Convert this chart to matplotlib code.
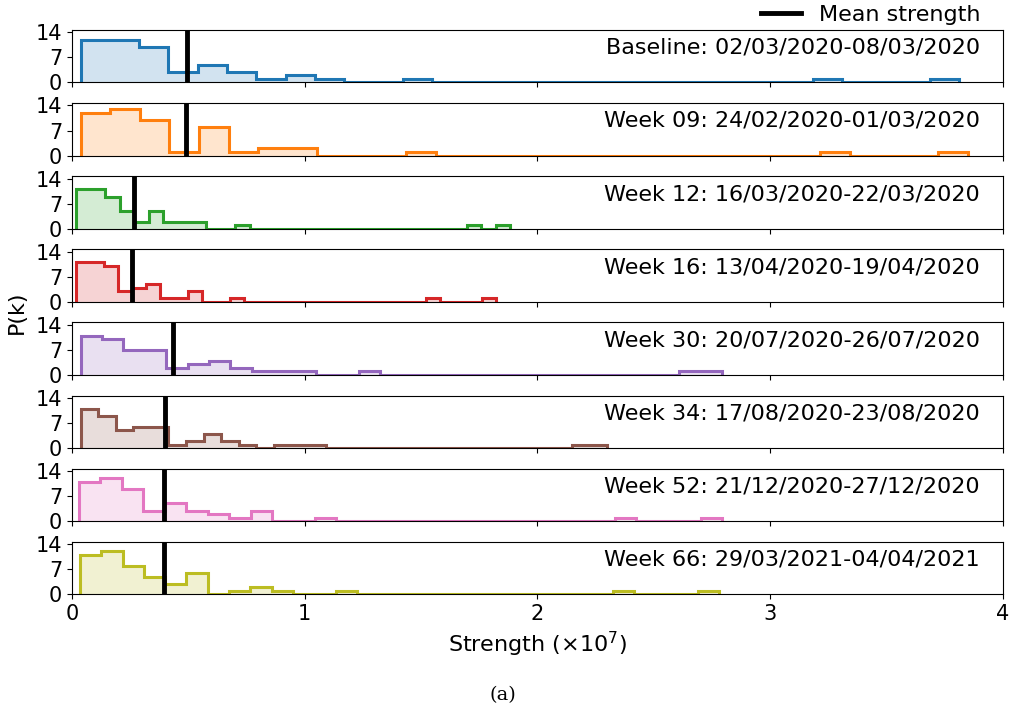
import numpy as np
import matplotlib
matplotlib.use("Agg")
import matplotlib.pyplot as plt

plt.rcParams['font.size'] = 16

# panel titles
labels = ["Baseline: 02/03/2020-08/03/2020",
          "Week 09: 24/02/2020-01/03/2020",
          "Week 12: 16/03/2020-22/03/2020",
          "Week 16: 13/04/2020-19/04/2020",
          "Week 30: 20/07/2020-26/07/2020",
          "Week 34: 17/08/2020-23/08/2020",
          "Week 52: 21/12/2020-27/12/2020",
          "Week 66: 29/03/2021-04/04/2021"]

# strength range of each week (x 10^7), 30 bins each
s_min = [0.037, 0.037, 0.018, 0.018, 0.037, 0.037, 0.030, 0.034]
s_max = [3.811, 3.85, 1.882, 1.822, 2.793, 2.30, 2.794, 2.781]

baseline = [12, 12, 10, 3, 5, 3, 1, 2, 1, 0, 0, 1] + [0] * 13 + [1, 0, 0, 0, 1]
week09 = [12, 13, 10, 1, 8, 1, 2, 2, 0, 0, 0, 1] + [0] * 13 + [1, 0, 0, 0, 1]
week12 = [11, 11, 9, 5, 2, 5, 2, 2, 2, 0, 0, 1] + [0] * 15 + [1, 0, 1]
week16 = [11, 11, 10, 3, 4, 5, 1, 1, 3, 0, 0, 1] + [0] * 13 + [1, 0, 0, 0, 1]
week30 = [11, 10, 7, 7, 2, 3, 4, 2, 1, 1, 1, 0, 0, 1] + [0] * 14 + [1, 1]
week34 = [11, 9, 5, 6, 6, 1, 2, 4, 2, 1, 0, 1, 1, 1] + [0] * 14 + [1, 1]
week52 = [11, 12, 9, 3, 5, 3, 2, 1, 3, 0, 0, 1] + [0] * 13 + [1, 0, 0, 0, 1]
week66 = [11, 12, 8, 5, 3, 6, 0, 1, 2, 1, 0, 0, 1] + [0] * 12 + [1, 0, 0, 0, 1]
counts = [baseline, week09, week12, week16, week30, week34, week52, week66]

mean_strength = [0.493, 0.49, 0.266, 0.258, 0.435, 0.401, 0.395, 0.397]

colors = ['C0', 'C1', 'C2', 'C3', 'C4', 'C5', 'C6', 'C8']

fig, axes = plt.subplots(8, 1, figsize=(10.1, 7.11), dpi=100, sharex=True)
fig.subplots_adjust(left=0.0713, right=0.993, top=0.958, bottom=0.164, hspace=0.39)

for i, ax in enumerate(axes):
    edges = np.linspace(s_min[i], s_max[i], len(counts[i]) + 1)
    ax.stairs(counts[i], edges, fill=True, color=colors[i], alpha=0.2, lw=0)
    ax.stairs(counts[i], edges, baseline=0, color=colors[i], lw=2.2)
    ax.axvline(mean_strength[i], color='k', lw=3.5, label='Mean strength')
    ax.text(0.975, 0.66, labels[i], transform=ax.transAxes, ha='right', va='center', fontsize=16)
    ax.set_xlim(0, 4)
    ax.set_ylim(0, 14.7)
    ax.set_yticks([0, 7, 14])
    ax.tick_params(labelsize=15)

axes[0].legend(loc='lower right', bbox_to_anchor=(0.985, 0.93), frameon=False,
               borderaxespad=0, handlelength=1.8, fontsize=16)
axes[-1].set_xticks([0, 1, 2, 3, 4])
axes[-1].set_xlabel(r"Strength ($\times 10^7$)", fontsize=16)
fig.text(0.017, 0.561, "P(k)", rotation=90, ha='center', va='center', fontsize=16)
fig.text(0.498, 0.0225, "(a)", ha='center', va='center', fontsize=14, family='DejaVu Serif')

plt.savefig("out.png")
